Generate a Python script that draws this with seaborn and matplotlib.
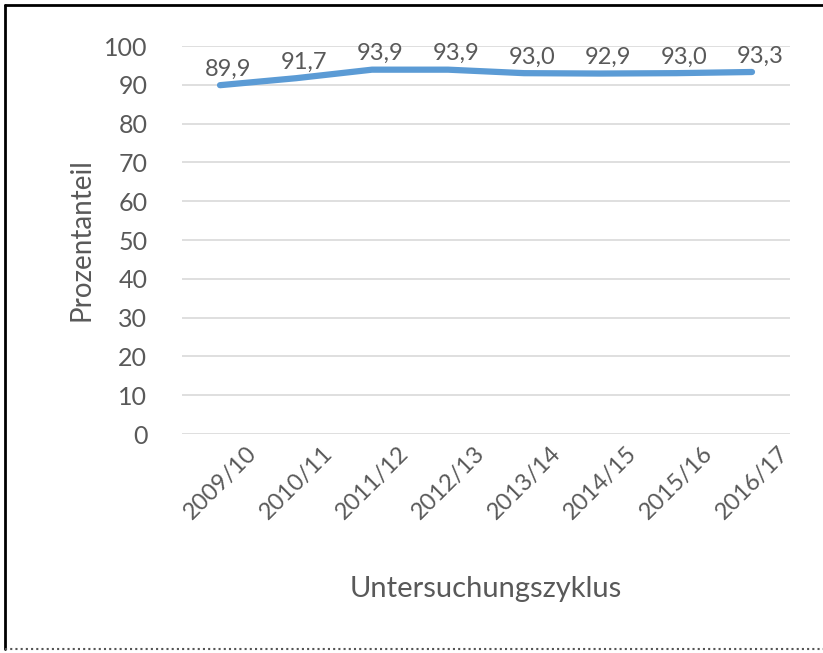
import matplotlib
matplotlib.use("Agg")
import matplotlib.pyplot as plt
import seaborn as sns
import pandas as pd
from matplotlib.lines import Line2D

# values
zyklus = ["2009/10", "2010/11", "2011/12", "2012/13", "2013/14", "2014/15", "2015/16", "2016/17"]
anteil = [89.9, 91.7, 93.9, 93.9, 93.0, 92.9, 93.0, 93.3]
y_ticks = [0, 10, 20, 30, 40, 50, 60, 70, 80, 90, 100]

df = pd.DataFrame({"Untersuchungszyklus": zyklus, "Prozentanteil": anteil})

sns.set_style("white")
plt.rcParams["font.family"] = ["Lato", "DejaVu Sans"]
grey = "#595959"

fig = plt.figure(figsize=(8.23, 6.53), dpi=100)
ax = fig.add_axes([182 / 823, 1 - 434 / 653, 608 / 823, 388 / 653])

sns.lineplot(data=df, x="Untersuchungszyklus", y="Prozentanteil", ax=ax,
             color="#5B9BD5", linewidth=4.5, sort=False, zorder=3)

for i, v in enumerate(anteil):
    ax.annotate(f"{v:.1f}".replace(".", ","), (i, v), xytext=(6, 4),
                textcoords="offset points", ha="center", va="bottom",
                fontsize=17, color=grey, zorder=4)

ax.set_xlim(-0.5, len(zyklus) - 0.5)
ax.set_ylim(0, 100)
ax.set_yticks(y_ticks)
ax.set_yticklabels([str(t) for t in y_ticks])
ax.tick_params(axis="y", labelsize=18, labelcolor=grey, length=0, pad=25)
ax.tick_params(axis="x", labelsize=17, labelcolor=grey, length=0, pad=6)
plt.setp(ax.get_xticklabels(), rotation=45, ha="center", va="top")

ax.yaxis.grid(True, color="#D9D9D9", linewidth=1.2)
ax.set_axisbelow(True)
for s in ax.spines.values():
    s.set_visible(False)

ax.set_xlabel("Untersuchungszyklus", fontsize=21, color=grey, labelpad=38)
ax.set_ylabel("Prozentanteil", fontsize=20, color=grey, labelpad=7)

# outer frame: left and top black, bottom dotted
fig.add_artist(Line2D([5 / 823, 5 / 823], [4 / 653, 1 - 5 / 653], transform=fig.transFigure,
                      color="black", linewidth=2))
fig.add_artist(Line2D([5 / 823, 1], [1 - 5 / 653, 1 - 5 / 653], transform=fig.transFigure,
                      color="black", linewidth=2))
fig.add_artist(Line2D([5 / 823, 1], [4 / 653, 4 / 653], transform=fig.transFigure,
                      color="#555555", linewidth=1.5, linestyle=(0, (1, 1.5))))

fig.savefig("out.png", dpi=100)
